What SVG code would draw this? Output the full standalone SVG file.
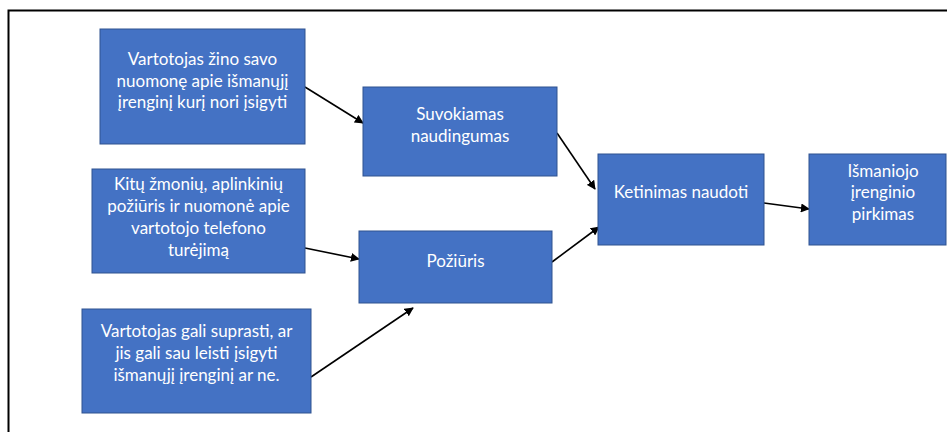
<svg xmlns="http://www.w3.org/2000/svg" width="947" height="432" viewBox="0 0 947 432">
<defs>
<style>
.box{fill:#4472C4;stroke:#2F528F;stroke-width:1}
.t{font-family:Lato,"Open Sans","Liberation Sans",sans-serif;font-size:17px;fill:#ffffff;text-anchor:middle}
.c{stroke:#000;stroke-width:1.6;fill:none;marker-end:url(#ah)}
</style>
<marker id="ah" viewBox="0 0 10 10" refX="9" refY="5" markerWidth="9" markerHeight="9" orient="auto" markerUnits="userSpaceOnUse"><path d="M0,0 L10,5 L0,10 z" fill="#000"/></marker>
</defs>
<rect width="947" height="432" fill="#fff"/>
<rect x="8.5" y="10.5" width="960" height="440" fill="none" stroke="#000" stroke-width="2"/>
<g id="connectors">
<line class="c" x1="305" y1="87" x2="363" y2="123"/>
<line class="c" x1="305" y1="248" x2="359" y2="259"/>
<line class="c" x1="311" y1="377" x2="413" y2="308"/>
<line class="c" x1="557" y1="133" x2="595" y2="189"/>
<line class="c" x1="552" y1="262" x2="599" y2="227"/>
<line class="c" x1="764" y1="203" x2="809" y2="209"/>
</g>
<g id="n1"><rect class="box" x="100" y="29" width="205" height="115"/>
<text class="t" x="202.5" y="65">Vartotojas žino savo</text>
<text class="t" x="202.5" y="87">nuomonę apie išmanųjį</text>
<text class="t" x="202.5" y="108">įrenginį kurį nori įsigyti</text></g>
<g id="n2"><rect class="box" x="92" y="169" width="213" height="104"/>
<text class="t" x="198.5" y="190">Kitų žmonių, aplinkinių</text>
<text class="t" x="198.5" y="212">požiūris ir nuomonė apie</text>
<text class="t" x="198.5" y="234">vartotojo telefono</text>
<text class="t" x="198.5" y="256">turėjimą</text></g>
<g id="n3"><rect class="box" x="82" y="309" width="229" height="104"/>
<text class="t" x="196.5" y="337">Vartotojas gali suprasti, ar</text>
<text class="t" x="196.5" y="359">jis gali sau leisti įsigyti</text>
<text class="t" x="196.5" y="381">išmanųjį įrenginį ar ne.</text></g>
<g id="n4"><rect class="box" x="363" y="87" width="194" height="89"/>
<text class="t" x="460" y="120">Suvokiamas</text>
<text class="t" x="460" y="142">naudingumas</text></g>
<g id="n5"><rect class="box" x="359" y="231" width="193" height="72"/>
<text class="t" x="455.5" y="267">Požiūris</text></g>
<g id="n6"><rect class="box" x="598" y="154" width="166" height="91"/>
<text class="t" x="681" y="198">Ketinimas naudoti</text></g>
<g id="n7"><rect class="box" x="809" y="154" width="137" height="91"/>
<text class="t" x="883" y="177">Išmaniojo</text>
<text class="t" x="883" y="198">įrenginio</text>
<text class="t" x="883" y="220">pirkimas</text></g>
</svg>
